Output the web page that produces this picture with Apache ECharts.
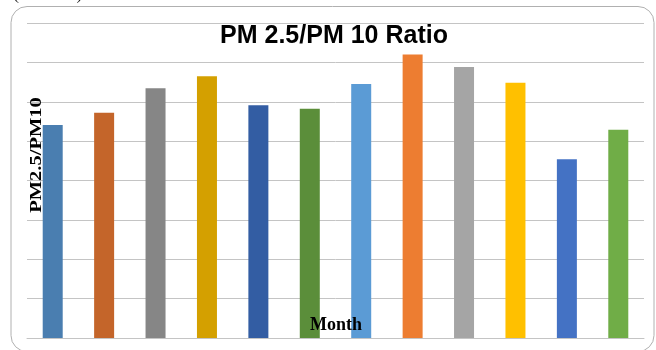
<!DOCTYPE html>
<html>
<head>
<meta charset="utf-8">
<script src="https://cdn.jsdelivr.net/npm/echarts@6/dist/echarts.min.js"></script>
<style>html,body{margin:0;padding:0;background:#fff;}#c{width:656px;height:350px;}</style>
</head>
<body>
<div id="c"></div>
<script>
const months = ['Jan','Feb','Mar','Apr','May','Jun','Jul','Aug','Sep','Oct','Nov','Dec'];
const ratios = [0.541, 0.572, 0.634, 0.665, 0.591, 0.582, 0.645, 0.720, 0.688, 0.648, 0.454, 0.529];
const barColors = ['#4A7EB0','#C4652A','#868686','#D4A000','#335DA3','#5B8E3A',
                   '#5B9BD5','#ED7D31','#A5A5A5','#FFC000','#4472C4','#70AD47'];
const titleText = 'PM 2.5/PM 10 Ratio';
const yName = 'PM2.5/PM10';
const xName = 'Month';

const chart = echarts.init(document.getElementById('c'), null, {renderer:'canvas'});
chart.setOption({
  animation: false,
  backgroundColor: '#fff',
  grid: {left: 27, right: 12, top: 23, bottom: 12, containLabel: false},
  xAxis: {
    type: 'category', data: months,
    axisLine: {show: true, lineStyle: {color: '#c4c4c4', width: 1}},
    axisTick: {show: false}, axisLabel: {show: false}, splitLine: {show: false}
  },
  yAxis: {
    type: 'value', min: 0, max: 0.8, interval: 0.1,
    axisLine: {show: false}, axisTick: {show: false}, axisLabel: {show: false},
    splitLine: {show: true, lineStyle: {color: '#c4c4c4', width: 1}}
  },
  series: [{
    type: 'bar', barWidth: 20,
    data: ratios.map((v, i) => ({value: v, itemStyle: {color: barColors[i]}}))
  }],
  graphic: [
    {type: 'rect', silent: true, z: -1, shape: {x: 11, y: 6.5, width: 643, height: 345, r: 16},
     style: {fill: 'none', stroke: '#b0b0b0', lineWidth: 1}},
    {type: 'text', x: 13, y: -15, style: {text: '(PM   10)', font: '18px "Liberation Serif"', fill: '#222'}},
    {type: 'text', x: 334, y: 36.5, z: 10, style: {text: titleText, font: 'bold 25px "Liberation Sans"', fill: '#000', textAlign: 'center', textVerticalAlign: 'middle'}},
    {type: 'text', x: 37, y: 155, rotation: Math.PI/2, scaleX: 1.28, z: 10,
     style: {text: yName, font: 'bold 16px "Liberation Serif"', fill: '#000', textAlign: 'center', textVerticalAlign: 'middle'}},
    {type: 'text', x: 336, y: 325, z: 10, style: {text: xName, font: 'bold 18px "Liberation Serif"', fill: '#000', textAlign: 'center', textVerticalAlign: 'middle'}}
  ]
});
</script>
</body>
</html>
